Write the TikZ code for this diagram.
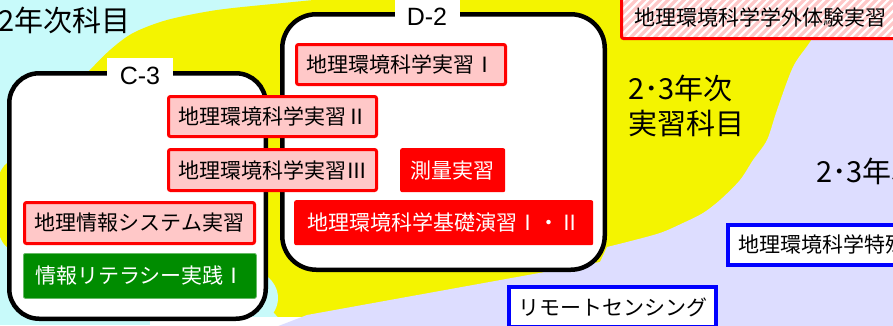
\documentclass[tikz,border=0pt]{standalone}
\usepackage{fontspec}
\setmainfont{Noto Sans CJK JP}
\newfontfamily\latfont{Liberation Sans}
\definecolor{bgcyan}{RGB}{200,250,250}
\definecolor{bgyellow}{RGB}{244,244,0}
\definecolor{bglav}{RGB}{221,221,255}
\definecolor{pinkfill}{RGB}{255,200,200}
\definecolor{grn}{RGB}{0,140,0}
\begin{document}
\begin{tikzpicture}[x=1pt,y=-1pt,
  cjk/.style={font=\fontsize{21}{21}\selectfont},
  pinkbox/.style={draw=red, fill=pinkfill, line width=3pt, rounded corners=2pt, inner sep=0pt, anchor=north west, cjk},
  redbox/.style={fill=red, text=white, rounded corners=2pt, inner sep=0pt, anchor=north west, cjk},
  greenbox/.style={fill=grn, draw=grn!60!white, line width=0.8pt, text=white, rounded corners=2pt, inner sep=0pt, anchor=north west, cjk},
  bluebox/.style={draw=blue, fill=white, line width=4pt, inner sep=0pt, anchor=north west, cjk},
  groupbox/.style={draw=black, fill=white, line width=4.5pt, anchor=north west, inner sep=0pt},
  grouplabel/.style={fill=white, font=\latfont\fontsize{25}{25}\selectfont, inner sep=0pt},
  biglabel/.style={font=\fontsize{29}{35}\selectfont, inner sep=0pt},
  hatch/.style={path picture={\foreach \i in {-64,-56,...,300} \draw[pinkfill, line width=3.2pt] ([xshift=\i pt]path picture bounding box.south west) -- ++(64,-64);}}
]
\useasboundingbox (0,0) rectangle (893,325);
\clip (0,0) rectangle (893,325);
% backgrounds
\fill[bgcyan] (0,0) rectangle (893,325);
\fill[bgyellow] (-5,205) .. controls (-5,180) and (0,165) .. (12,160) -- (88,72)
  -- plot[smooth] coordinates {(88,72) (110,50) (133,33) (167,20) (217,10) (283,3) (345,-3)}
  -- (900,-3) -- (900,330) -- (290,330) -- (262,300) -- (12,250)
  .. controls (0,247) and (-5,225) .. (-5,205) -- cycle;
\fill[bgcyan] (240,298) ellipse [x radius=38pt, y radius=31pt];
\fill[white] (150,317) rectangle (330,330);
\fill[bglav] (900,-3) -- (840,-3)
  -- plot[smooth] coordinates {(840,-3) (810,42) (793,67) (777,110) (767,140) (753,160) (740,180) (720,200) (703,213) (683,223) (660,233) (627,242) (607,247)}
  -- (600,262) -- (307,315) -- (268,330) -- (900,330) -- cycle;
% labels on background
\node[biglabel, anchor=east] (l1) at (131,20) {2年次科目};
\node[biglabel, anchor=west, align=left] (l2) at (628,106) {2･3年次\\実習科目};
\node[biglabel, anchor=west] (l3) at (816,171) {2･3年次};
% group boxes
\node[groupbox, rounded corners=30pt, minimum width=256.5pt, minimum height=245.5pt] (c3) at (7,71) {};
\node[groupbox, rounded corners=34pt, minimum width=322.5pt, minimum height=255.5pt] (d2) at (280,12) {};
\node[grouplabel, minimum width=66pt, minimum height=36pt] (c3l) at (140,76) {C-3};
\node[grouplabel, minimum width=65pt, minimum height=34pt] (d2l) at (427,17) {D-2};
% course boxes
\node[pinkbox, minimum width=209pt, minimum height=40pt] (p1) at (295,43) {地理環境科学実習Ⅰ};
\node[pinkbox, minimum width=208pt, minimum height=40pt] (p2) at (167,95) {地理環境科学実習Ⅱ};
\node[pinkbox, minimum width=208pt, minimum height=41pt] (p3) at (167,148) {地理環境科学実習Ⅲ};
\node[pinkbox, minimum width=230pt, minimum height=41pt] (p4) at (23,201) {地理情報システム実習};
\node[greenbox, minimum width=233pt, minimum height=45pt] (g1) at (23,253) {情報リテラシー実践Ⅰ};
\node[redbox, minimum width=105pt, minimum height=44pt] (r1) at (400,148) {測量実習};
\node[redbox, minimum width=299pt, minimum height=45pt] (r2) at (294,200) {地理環境科学基礎演習Ⅰ・Ⅱ};
\node[pinkbox, fill=white, hatch, minimum width=277pt, minimum height=42pt] (h1) at (620,-5) {地理環境科学学外体験実習};
\node[bluebox, minimum width=207pt, minimum height=40pt] (b1) at (507,285) {リモートセンシング};
\node[bluebox, minimum height=40pt, text width=210pt, align=left, inner xsep=10pt] (b2) at (726,223) {地理環境科学特殊};
\end{tikzpicture}
\end{document}
